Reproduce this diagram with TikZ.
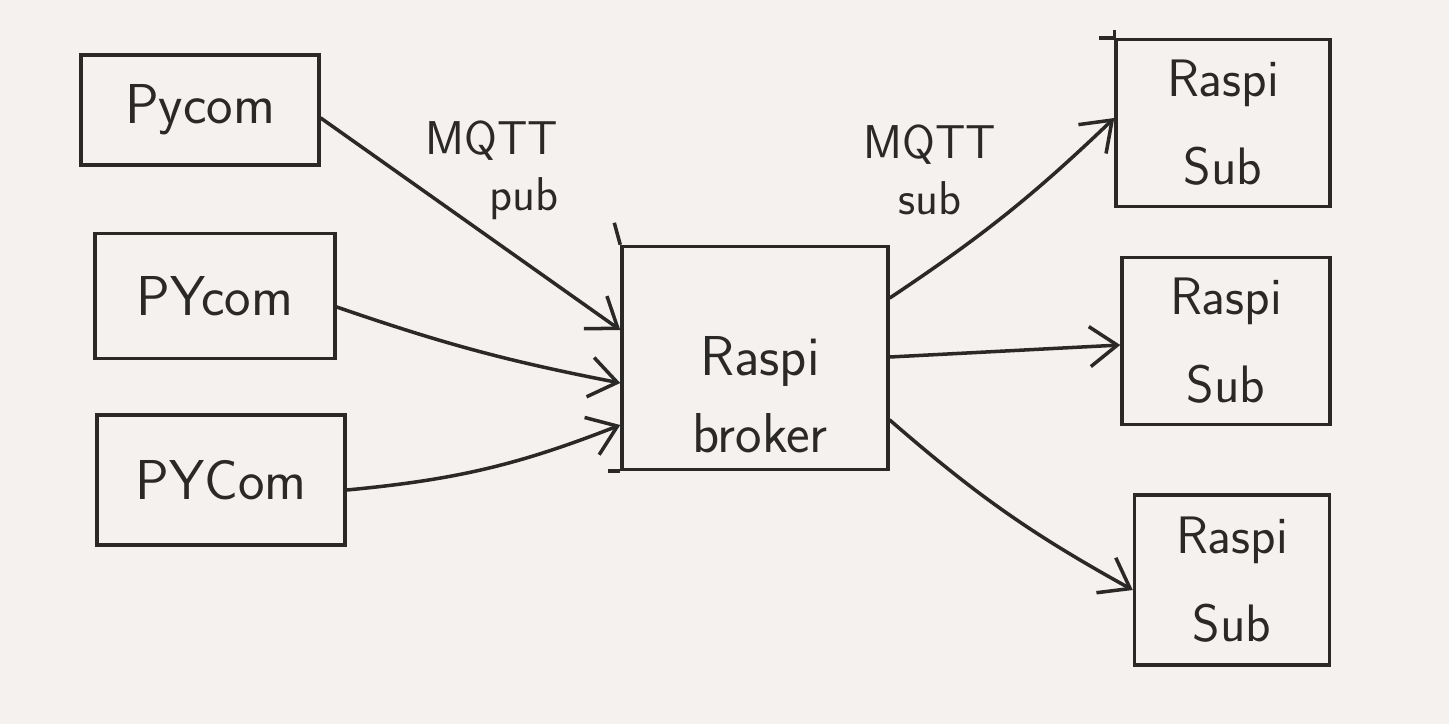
\documentclass[tikz,border=0pt]{standalone}
\usepackage{tikz}
\usetikzlibrary{arrows.meta}
\definecolor{paper}{HTML}{F4F1EE}
\definecolor{ink}{HTML}{2B2927}

\begin{document}
\begin{tikzpicture}[x=0.02cm, y=-0.02cm,
		box/.style={draw=ink, line width=2pt, inner sep=0pt, align=center, text=ink,
			font=\sffamily\fontsize{32}{50}\selectfont},
		lbl/.style={text=ink, font=\sffamily\fontsize{27}{32}\selectfont},
		wire/.style={draw=ink, line width=2pt, line cap=round,
			-{Straight Barb[length=5.5mm,width=8mm]}}]
			%%%%% START %%%%%
			
			\fill[paper] (0,0) rectangle (1449,724);
			
			% pycoms on the left
			\node[box, minimum width=4.76cm, minimum height=2.2cm] (p1) at (200,110) {Pycom};
			\node[box, minimum width=4.8cm, minimum height=2.5cm] (p2) at (215,296) {PYcom};
			\node[box, minimum width=4.96cm, minimum height=2.6cm] (p3) at (221,480) {PYCom};
			
			% broker in the middle
			\node[box, minimum width=5.32cm, minimum height=4.46cm] (broker) at (755,358) {};
			\node[box, draw=none, font=\sffamily\fontsize{32}{44}\selectfont] (brokertxt) at (760,395) {Raspi\\broker};
			\draw[ink, line width=2pt] (broker.north west) -- ++(-6,-22);
			\draw[ink, line width=2pt] (broker.south west) -- ++(-12,0);
			
			% subscribers on the right
			\node[box, minimum width=4.28cm, minimum height=3.34cm, font=\sffamily\fontsize{30}{50}\selectfont] (s1) at (1223,123) {Raspi\\Sub};
			\node[box, minimum width=4.16cm, minimum height=3.34cm, font=\sffamily\fontsize{30}{50}\selectfont] (s2) at (1226,341) {Raspi\\Sub};
			\node[box, minimum width=3.9cm, minimum height=3.4cm, font=\sffamily\fontsize{30}{50}\selectfont] (s3) at (1232,580) {Raspi\\Sub};
			\draw[ink, line width=2pt] (s1.north west) -- ++(-15,0);
			\draw[ink, line width=2pt] (s1.north west) -- ++(0,-8);
			
			% labels
			\node[lbl, align=right] (publbl) at (492,170) {MQTT\\pub};
			\node[lbl, align=center] (sublbl) at (930,170) {MQTT\\sub};
			
			% pub arrows
			\draw[wire] ([yshift=-0.16cm]p1.east) -- ([yshift=0.56cm]broker.west);
			\draw[wire] ([yshift=-0.22cm]p2.east) to[bend right=4] ([yshift=-0.5cm]broker.west);
			\draw[wire] ([yshift=-0.2cm]p3.east) to[bend right=8] ([yshift=-1.34cm]broker.west);
			
			% sub arrows
			\draw[wire] ([yshift=1.2cm]broker.east) to[bend right=5] ([yshift=0.1cm]s1.west);
			\draw[wire] ([yshift=0.02cm]broker.east) -- ([yshift=-0.08cm]s2.west);
			\draw[wire] ([yshift=-1.24cm]broker.east) to[bend right=6] ([yshift=-0.2cm]s3.west);
			
			%%%%% END %%%%%
		\end{tikzpicture}
\end{document}
